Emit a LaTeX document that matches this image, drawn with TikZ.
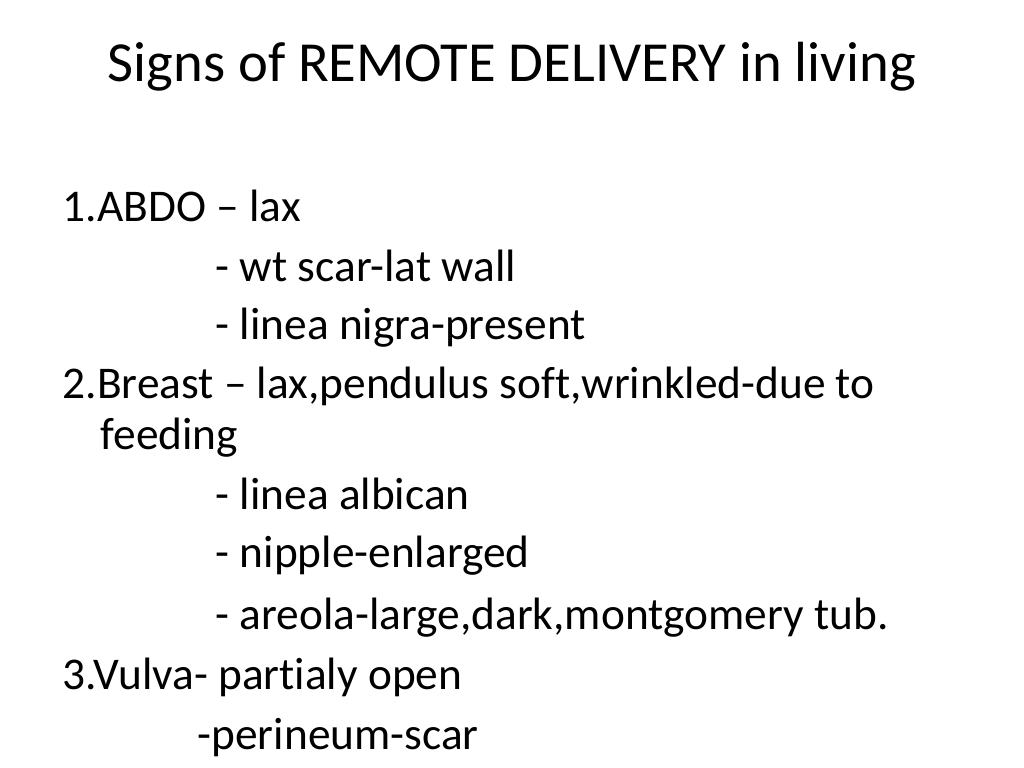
\documentclass[tikz,border=0pt]{standalone}
\usepackage{fontspec}
\setmainfont[Ligatures={NoCommon}]{Carlito}
\tikzset{
  line/.style={anchor=base west,inner sep=0pt,font=\fontsize{12.9pt}{14pt}\selectfont},
  heading/.style={anchor=base,inner sep=0pt,font=\fontsize{16.1pt}{18pt}\selectfont}
}
\begin{document}
\begin{tikzpicture}[x=0.01cm,y=-0.01cm]
    \useasboundingbox[fill=white] (0,0) rectangle (1024,768);
    \node[heading] (title) at (512,82) {Signs of REMOTE DELIVERY in living};
    \path
    (62,222) node[line] (abdo) {1.ABDO -- lax}
    (215,282) node[line] (scar) {- wt scar-lat wall}
    (215,340) node[line] (linea) {- linea nigra-present}
    (62,399) node[line] (breast) {2.Breast -- lax,pendulus soft,wrinkled-due to}
    (100,450) node[line] (feed) {feeding}
    (215,510) node[line] (albican) {- linea albican}
    (215,568) node[line] (nipple) {- nipple-enlarged}
    (215,630) node[line] (areola) {- areola-large,dark,montgomery tub.}
    (62,690) node[line] (vulva) {3.Vulva- partialy open}
    (197,750) node[line] (perineum) {-perineum-scar};
\end{tikzpicture}
\end{document}
